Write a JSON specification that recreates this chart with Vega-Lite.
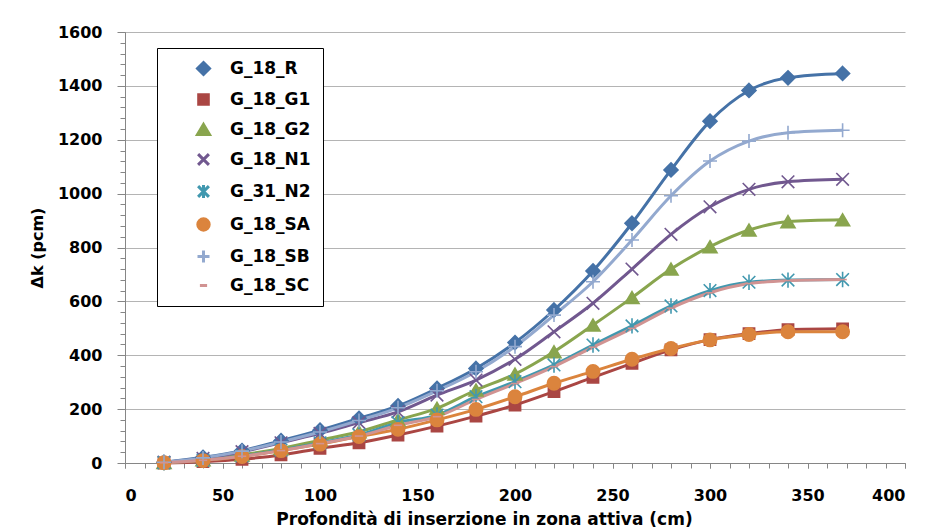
{
  "$schema": "https://vega.github.io/schema/vega-lite/v6.json",
  "width": 780,
  "height": 431,
  "autosize": {"type": "none"},
  "padding": {"left": 125, "top": 32, "right": 21, "bottom": 69},
  "background": "white",
  "config": {
    "view": {"stroke": null},
    "font": "DejaVu Sans",
    "axis": {"labelFont": "DejaVu Sans", "titleFont": "DejaVu Sans", "labelFontWeight": "bold", "titleFontWeight": "bold", "labelFontSize": 16, "titleFontSize": 16, "labelColor": "black", "titleColor": "black", "domainColor": "#868686", "tickColor": "#868686"}
  },
  "data": {"values": [
    {"d":20,"G_18_R":3,"G_18_G1":0,"G_18_G2":2,"G_18_N1":3,"G_31_N2":1,"G_18_SA":1,"G_18_SB":3,"G_18_SC":1},
    {"d":40,"G_18_R":21,"G_18_G1":5,"G_18_G2":12,"G_18_N1":17,"G_31_N2":10,"G_18_SA":9,"G_18_SB":19,"G_18_SC":10},
    {"d":60,"G_18_R":46,"G_18_G1":14,"G_18_G2":30,"G_18_N1":42,"G_31_N2":26,"G_18_SA":24,"G_18_SB":44,"G_18_SC":25},
    {"d":80,"G_18_R":83,"G_18_G1":30,"G_18_G2":54,"G_18_N1":75,"G_31_N2":48,"G_18_SA":46,"G_18_SB":78,"G_18_SC":46},
    {"d":100,"G_18_R":122,"G_18_G1":54,"G_18_G2":85,"G_18_N1":110,"G_31_N2":75,"G_18_SA":70,"G_18_SB":115,"G_18_SC":72},
    {"d":120,"G_18_R":166,"G_18_G1":75,"G_18_G2":116,"G_18_N1":150,"G_31_N2":104,"G_18_SA":98,"G_18_SB":158,"G_18_SC":100},
    {"d":140,"G_18_R":212,"G_18_G1":104,"G_18_G2":160,"G_18_N1":190,"G_31_N2":150,"G_18_SA":125,"G_18_SB":205,"G_18_SC":140},
    {"d":160,"G_18_R":277,"G_18_G1":137,"G_18_G2":203,"G_18_N1":252,"G_31_N2":178,"G_18_SA":160,"G_18_SB":268,"G_18_SC":172},
    {"d":180,"G_18_R":351,"G_18_G1":174,"G_18_G2":271,"G_18_N1":308,"G_31_N2":246,"G_18_SA":199,"G_18_SB":339,"G_18_SC":236},
    {"d":200,"G_18_R":447,"G_18_G1":215,"G_18_G2":330,"G_18_N1":385,"G_31_N2":302,"G_18_SA":246,"G_18_SB":432,"G_18_SC":295},
    {"d":220,"G_18_R":568,"G_18_G1":265,"G_18_G2":413,"G_18_N1":487,"G_31_N2":364,"G_18_SA":296,"G_18_SB":549,"G_18_SC":358},
    {"d":240,"G_18_R":713,"G_18_G1":318,"G_18_G2":512,"G_18_N1":593,"G_31_N2":438,"G_18_SA":340,"G_18_SB":673,"G_18_SC":430},
    {"d":260,"G_18_R":890,"G_18_G1":370,"G_18_G2":614,"G_18_N1":720,"G_31_N2":509,"G_18_SA":385,"G_18_SB":828,"G_18_SC":500},
    {"d":280,"G_18_R":1088,"G_18_G1":420,"G_18_G2":720,"G_18_N1":849,"G_31_N2":583,"G_18_SA":425,"G_18_SB":992,"G_18_SC":575},
    {"d":300,"G_18_R":1269,"G_18_G1":458,"G_18_G2":803,"G_18_N1":951,"G_31_N2":640,"G_18_SA":457,"G_18_SB":1121,"G_18_SC":632},
    {"d":320,"G_18_R":1383,"G_18_G1":480,"G_18_G2":865,"G_18_N1":1016,"G_31_N2":671,"G_18_SA":477,"G_18_SB":1195,"G_18_SC":666},
    {"d":340,"G_18_R":1430,"G_18_G1":495,"G_18_G2":896,"G_18_N1":1044,"G_31_N2":679,"G_18_SA":487,"G_18_SB":1226,"G_18_SC":677},
    {"d":368,"G_18_R":1446,"G_18_G1":498,"G_18_G2":903,"G_18_N1":1053,"G_31_N2":681,"G_18_SA":487,"G_18_SB":1235,"G_18_SC":681}
  ]},
  "transform": [
    {"fold": ["G_18_R","G_18_G1","G_18_G2","G_18_N1","G_31_N2","G_18_SA","G_18_SB","G_18_SC"], "as": ["series","val"]}
  ],
  "resolve": {"axis": {"x": "independent", "y": "independent"}},
  "layer": [
    {
      "mark": {"type": "line", "interpolate": "monotone", "strokeWidth": 3},
      "encoding": {
        "x": {"field": "d", "type": "quantitative", "scale": {"domain": [0,400], "nice": false},
              "axis": {"orient": "bottom", "values": [0,50,100,150,200,250,300,350,400], "grid": false, "tickSize": 5, "labelPadding": 19, "title": "Profondità di inserzione in zona attiva (cm)", "titlePadding": 8, "titleX": 359, "titleFontSize": 17}},
        "y": {"field": "val", "type": "quantitative", "scale": {"domain": [0,1600], "nice": false},
              "axis": {"orient": "left", "values": [0,200,400,600,800,1000,1200,1400,1600], "format": "d", "grid": true, "gridColor": "#B4B4B4", "tickSize": 8, "labelPadding": 15, "title": "Δk (pcm)", "titlePadding": 12}},
        "color": {"field": "series", "type": "nominal",
          "scale": {"domain": ["G_18_R","G_18_G1","G_18_G2","G_18_N1","G_31_N2","G_18_SA","G_18_SB","G_18_SC"],
                    "range": ["#4572A7","#AA4643","#89A54E","#71588F","#4198AF","#DB843D","#93A9CF","#D19392"]},
          "legend": {
            "title": null, "orient": "none", "legendX": 32, "legendY": 16,
            "strokeColor": "black", "fillColor": "white", "padding": 12,
            "symbolSize": 144, "symbolStrokeWidth": 3, "labelOffset": 18, "symbolOffset": 26,
            "rowPadding": 7,
            "labelFont": "DejaVu Sans", "labelFontWeight": "bold", "labelFontSize": 17, "labelColor": "black"
          }
        }
      }
    },
    {
      "mark": {"type": "point", "filled": true, "size": 196, "strokeWidth": 1.6, "opacity": 1},
      "encoding": {
        "x": {"field": "d", "type": "quantitative",
              "axis": {"orient": "bottom", "values": [0,10,20,30,40,50,60,70,80,90,100,110,120,130,140,150,160,170,180,190,200,210,220,230,240,250,260,270,280,290,300,310,320,330,340,350,360,370,380,390,400], "labels": false, "grid": false, "domain": false, "tickSize": 5, "title": null}},
        "y": {"field": "val", "type": "quantitative",
              "axis": {"orient": "left", "values": [0,40,80,120,160,200,240,280,320,360,400,440,480,520,560,600,640,680,720,760,800,840,880,920,960,1000,1040,1080,1120,1160,1200,1240,1280,1320,1360,1400,1440,1480,1520,1560,1600], "labels": false, "grid": false, "domain": false, "tickSize": 5, "title": null}},
        "fill": {"field": "series", "type": "nominal", "legend": null,
          "scale": {"domain": ["G_18_R","G_18_G1","G_18_G2","G_18_N1","G_31_N2","G_18_SA","G_18_SB","G_18_SC"],
                    "range": ["#4572A7","#AA4643","#89A54E","#71588F","#4198AF","#DB843D","#93A9CF","#D19392"]}},
        "stroke": {"field": "series", "type": "nominal", "legend": null,
          "scale": {"domain": ["G_18_R","G_18_G1","G_18_G2","G_18_N1","G_31_N2","G_18_SA","G_18_SB","G_18_SC"],
                    "range": ["#4572A7","#AA4643","#89A54E","#71588F","#4198AF","#DB843D","#93A9CF","#D19392"]}},
        "shape": {"field": "series", "type": "nominal", "legend": null,
          "scale": {"domain": ["G_18_R","G_18_G1","G_18_G2","G_18_N1","G_31_N2","G_18_SA","G_18_SB","G_18_SC"],
                    "range": ["M0,-1L1,0L0,1L-1,0Z","M-0.8,-0.8H0.8V0.8H-0.8Z","M0,-0.85L1,0.85H-1Z","M-0.9,-0.9L0.9,0.9M0.9,-0.9L-0.9,0.9","M-0.9,-0.9L0.9,0.9M0.9,-0.9L-0.9,0.9M0,-1.1V1.1","M-0.95,0A0.95,0.95,0,1,1,0.95,0A0.95,0.95,0,1,1,-0.95,0Z","M-1,0H1M0,-1V1","M-0.6,0H0.6"]}}
      }
    }
  ]
}
